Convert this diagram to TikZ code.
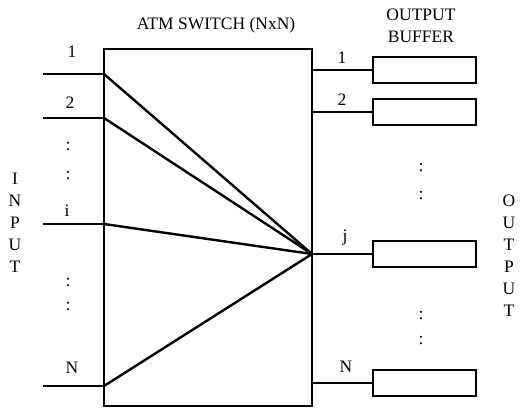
\documentclass[tikz,border=0pt]{standalone}
\usepackage{fontspec}
\setmainfont{Liberation Serif}
\usetikzlibrary{positioning, calc}
\tikzset{
  swbox/.style={draw, line width=1.6pt, minimum width=208pt, minimum height=357pt, inner sep=0pt},
  bufbox/.style={draw, line width=1.4pt, minimum width=103pt, minimum height=26pt, inner sep=0pt},
  wire/.style={line width=1.2pt},
  route/.style={line width=2.4pt},
  lbl/.style={font=\fontsize{17.5}{19}\selectfont, inner sep=0pt},
  vlbl/.style={lbl, align=center, font=\fontsize{17.5}{22}\selectfont},
}

\begin{document}
\begin{tikzpicture}[x=1pt, y=-1pt]
    \useasboundingbox (0,0) rectangle (526,408);
    \node[lbl] (title) at (216,25) {ATM SWITCH (NxN)};
    \node[swbox] (switch) at (208,227.5) {};
    \coordinate (hub) at (312,254);
    % inputs
    \foreach \n/\y in {1/74, 2/118, i/224, N/386} {
      \coordinate (src\n) at (43,\y);
      \coordinate (in\n) at (104,\y);
      \draw[wire] (src\n) -- (in\n);
      \draw[route] (in\n) -- (hub);
    }
    \node[lbl] (lin1) at (72,52) {1};
    \node[lbl] (lin2) at (70,103) {2};
    \node[lbl] (lini) at (67,211) {i};
    \node[lbl] (linN) at (72,368) {N};
    \node[lbl] (dotA) at (68,147) {:};
    \node[lbl] (dotB) at (68,176) {:};
    \node[lbl] (dotC) at (68,283) {:};
    \node[lbl] (dotD) at (68,307) {:};
    \node[vlbl] (inlbl) at (15,223) {I\\N\\P\\U\\T};
    % outputs
    \node[vlbl] (buflbl) at (421,26) {OUTPUT\\BUFFER};
    \foreach \n/\y in {1/70, 2/112, N/383} {
      \coordinate (out\n) at (312,\y);
      \node[bufbox] (buf\n) at (424.5,\y) {};
      \draw[wire] (out\n) -- (buf\n);
    }
    \node[bufbox] (bufj) at (424.5,254) {};
    \draw[wire] (hub) -- (bufj);
    \node[lbl] (lout1) at (342,58) {1};
    \node[lbl] (lout2) at (342,100) {2};
    \node[lbl] (loutj) at (345,238) {j};
    \node[lbl] (loutN) at (346,367) {N};
    \node[lbl] (dotE) at (421,168) {:};
    \node[lbl] (dotF) at (421,196) {:};
    \node[lbl] (dotG) at (421,316) {:};
    \node[lbl] (dotH) at (421,341) {:};
    \node[vlbl] (outlbl) at (509,256) {O\\U\\T\\P\\U\\T};
  \end{tikzpicture}
\end{document}
